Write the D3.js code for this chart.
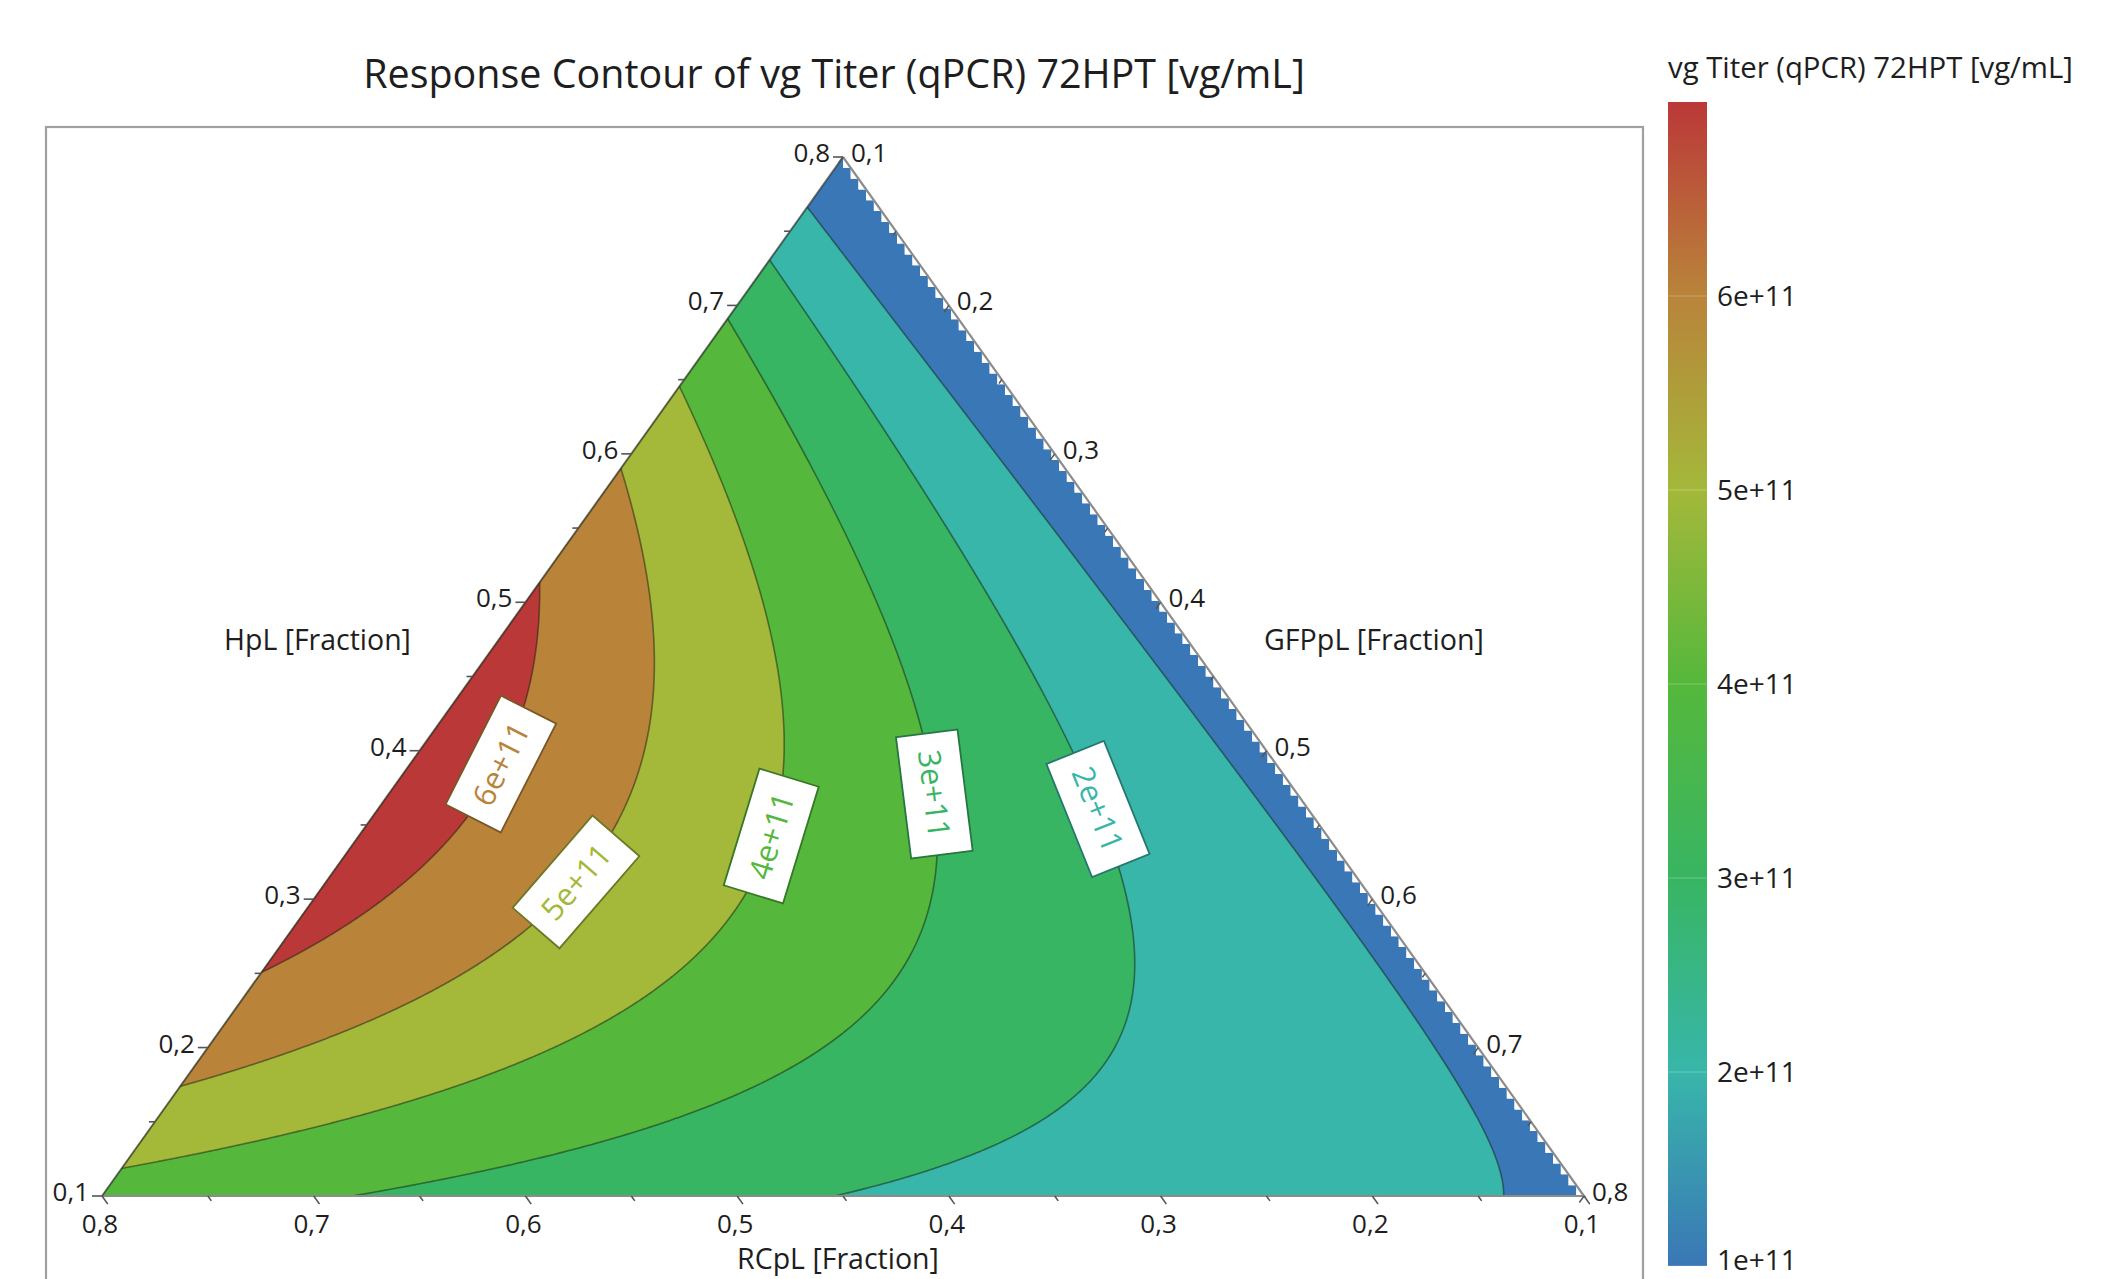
<!DOCTYPE html>
<html><head><meta charset="utf-8">
<script src="https://cdn.jsdelivr.net/npm/d3@7"></script>
<style>
html,body{margin:0;padding:0;background:#fff;}
svg{display:block;}
text{font-family:"Open Sans","Noto Sans",sans-serif;fill:#1e1e1e;}
</style></head><body>
<svg id="chart" width="2127" height="1279"></svg>
<script>
// ---------------- data ----------------
const chartTitle = "Response Contour of vg Titer (qPCR) 72HPT [vg/mL]";
const responseName = "vg Titer (qPCR) 72HPT [vg/mL]";
const componentNames = ["RCpL [Fraction]", "HpL [Fraction]", "GFPpL [Fraction]"];
const componentRange = [0.1, 0.8];
const axisTicks = [0.1, 0.2, 0.3, 0.4, 0.5, 0.6, 0.7, 0.8];
const axisTickLabels = ["0,1", "0,2", "0,3", "0,4", "0,5", "0,6", "0,7", "0,8"];
const axisMinorTicks = [0.15, 0.25, 0.35, 0.45, 0.55, 0.65, 0.75];
// mixture model (Scheffé quadratic in pseudo-components), coefficients
const modelTerms = ["RCpL", "HpL", "GFPpL", "RCpL*HpL", "RCpL*GFPpL", "HpL*GFPpL"];
const modelCoefficients = [3.61e11, -0.04e11, 0.91e11, 18.8e11, -1.10e11, 0.80e11];
const contourLevels = [1e11, 2e11, 3e11, 4e11, 5e11, 6e11];
const colorStopValues = [1e11, 2e11, 3e11, 4e11, 5e11, 6e11, 7e11];
const colorbarTicks = [1e11, 2e11, 3e11, 4e11, 5e11, 6e11];
const colorbarTickLabels = ["1e+11", "2e+11", "3e+11", "4e+11", "5e+11", "6e+11"];
const labelLevels = [6e11, 5e11, 4e11, 3e11, 2e11];
const labelTexts = ["6e+11", "5e+11", "4e+11", "3e+11", "2e+11"];
const labelAnchorRCpL = [0.467, 0.470, 0.364, 0.270, 0.198];
const labelAnchorHpL = [0.393, 0.311, 0.344, 0.371, 0.361];

// ---------------- styles ----------------
const colorStopColors = ["#3a77b6", "#38b6aa", "#38b562", "#55b83c", "#a4b83a", "#b9843a", "#bb3838"];

const svg = d3.select("#chart");
const BL = [102, 1196], TP = [843, 157], BR = [1584, 1196];

// ternary scales
const hpY = d3.scaleLinear().domain(componentRange).range([BL[1], TP[1]]);
const hpX = d3.scaleLinear().domain(componentRange).range([BL[0], TP[0]]);
const gfpDX = d3.scaleLinear().domain(componentRange).range([0, BR[0] - BL[0]]);
const pseudo = d3.scaleLinear().domain(componentRange).range([0, 1]);
const project = (rc, hp, gfp) => [hpX(hp) + gfpDX(gfp), hpY(hp)];
function unproject(px, py) {
  const hp = hpY.invert(py);
  const gfp = gfpDX.invert(px - hpX(hp));
  return [1 - hp - gfp, hp, gfp];
}
function response(rc, hp, gfp) {
  const a = pseudo(rc), b = pseudo(hp), c = pseudo(gfp);
  const t = [a, b, c, a * b, a * c, b * c];
  let s = 0;
  for (let i = 0; i < t.length; i++) s += t[i] * modelCoefficients[i];
  return s;
}
const color = d3.scaleLinear().domain(colorStopValues).range(colorStopColors).interpolate(d3.interpolateRgb);

// ---- frame ----
svg.append("rect").attr("x", 46).attr("y", 127).attr("width", 1597).attr("height", 1200)
  .attr("fill", "none").attr("stroke", "#a0a0a0").attr("stroke-width", 2.2);

// ---- title ----
function fitWidth(sel, w) {
  sel.attr("font-size", 100);
  const l = sel.node().getComputedTextLength();
  sel.attr("font-size", 100 * w / l);
}
fitWidth(svg.append("text").attr("x", 834).attr("y", 88).attr("text-anchor", "middle").attr("fill", "#111").text(chartTitle), 942);

// ---- grid & contours ----
const step = 2, gx0 = 60, gy0 = 130;
const nx = Math.ceil((1630 - gx0) / step) + 1, ny = Math.ceil((1230 - gy0) / step) + 1;
const values = new Float64Array(nx * ny);
for (let j = 0; j < ny; j++) {
  for (let i = 0; i < nx; i++) {
    const c = unproject(gx0 + i * step, gy0 + j * step);
    values[j * nx + i] = response(c[0], c[1], c[2]);
  }
}
const contours = d3.contours().size([nx, ny]).thresholds(contourLevels)(values);
const gridPath = d3.geoPath(d3.geoIdentity().scale(step).translate([gx0 - step / 2, gy0 - step / 2]));

// clip: triangle with stair-stepped right edge (as rendered in the reference)
const rows = 96;
const edgeX = y => TP[0] + (y - TP[1]) / (BR[1] - TP[1]) * (BR[0] - TP[0]);
const stair = [TP, BL];
for (let k = rows; k >= 1; k--) {
  const yb = TP[1] + k * (BR[1] - TP[1]) / rows, yt = TP[1] + (k - 1) * (BR[1] - TP[1]) / rows;
  const x = edgeX(yt);
  stair.push([x, yb], [x, yt]);
}
svg.append("clipPath").attr("id", "tri").append("path").attr("d", "M" + stair.map(p => p.join(",")).join("L") + "Z");

const plot = svg.append("g").attr("clip-path", "url(#tri)");
plot.append("path").attr("d", "M" + stair.map(p => p.join(",")).join("L") + "Z").attr("fill", color(contourLevels[0]));
contours.forEach((c, i) => {
  const upper = colorStopValues[i + 1];
  plot.append("path").attr("d", gridPath(c)).attr("fill", color(upper));
});
contours.forEach(c => {
  plot.append("path").attr("d", gridPath(c)).attr("fill", "none")
    .attr("stroke", "rgba(20,30,20,0.5)").attr("stroke-width", 1.6);
});

// ---- triangle outline ----
svg.append("path").attr("d", `M${TP}L${BR}L${BL}`).attr("fill", "none").attr("stroke", "#8c8c8c").attr("stroke-width", 2.2);
svg.append("path").attr("d", `M${BL}L${TP}`).attr("fill", "none").attr("stroke", "rgba(40,40,30,0.65)").attr("stroke-width", 2);

// ---- ternary axes ----
const ax = svg.append("g").attr("font-size", 26);
const dirBottom = [0.581, 0.814], dirRight = [-0.581, 0.814];
function ticks(vals, len) {
  vals.forEach(v => {
    // left edge: HpL = v, GFPpL = 0.1
    const L = project(1 - v - 0.1, v, 0.1);
    ax.append("line").attr("x1", L[0]).attr("y1", L[1]).attr("x2", L[0] - len).attr("y2", L[1]).attr("stroke", "#555").attr("stroke-width", 1.6);
    // bottom edge: RCpL = v, HpL = 0.1
    const B = project(v, 0.1, 1 - v - 0.1);
    ax.append("line").attr("x1", B[0]).attr("y1", B[1]).attr("x2", B[0] + len * dirBottom[0]).attr("y2", B[1] + len * dirBottom[1]).attr("stroke", "#555").attr("stroke-width", 1.6);
    // right edge: GFPpL = v, RCpL = 0.1
    const R = project(0.1, 1 - v - 0.1, v);
    ax.append("line").attr("x1", R[0]).attr("y1", R[1]).attr("x2", R[0] + len * 0.8 * dirRight[0]).attr("y2", R[1] + len * 0.8 * dirRight[1]).attr("stroke", "#555").attr("stroke-width", 1.5);
  });
}
ticks(axisTicks, 10);
ticks(axisMinorTicks, 6);
axisTicks.forEach((v, i) => {
  const L = project(1 - v - 0.1, v, 0.1);
  ax.append("text").attr("x", L[0] - 13).attr("y", L[1] + 5).attr("text-anchor", "end").text(axisTickLabels[i]);
  const B = project(v, 0.1, 1 - v - 0.1);
  ax.append("text").attr("x", B[0] - 2).attr("y", 1233).attr("text-anchor", "middle").text(axisTickLabels[i]);
  const R = project(0.1, 1 - v - 0.1, v);
  ax.append("text").attr("x", R[0] + 8).attr("y", R[1] + 5).attr("text-anchor", "start").text(axisTickLabels[i]);
});
fitWidth(svg.append("text").attr("x", 224).attr("y", 650).text(componentNames[1]), 187);
fitWidth(svg.append("text").attr("x", 1264).attr("y", 650).text(componentNames[2]), 220);
fitWidth(svg.append("text").attr("x", 838).attr("y", 1269).attr("text-anchor", "middle").text(componentNames[0]), 202);

// ---- contour labels ----
labelLevels.forEach((lev, k) => {
  const ci = contourLevels.indexOf(lev);
  const anchor = project(labelAnchorRCpL[k], labelAnchorHpL[k], 1 - labelAnchorRCpL[k] - labelAnchorHpL[k]);
  let best = null, bd = Infinity;
  contours[ci].coordinates.forEach(poly => poly.forEach(ring => {
    ring.forEach((p, idx) => {
      const px = gx0 + (p[0] - 0.5) * step, py = gy0 + (p[1] - 0.5) * step;
      const d = (px - anchor[0]) ** 2 + (py - anchor[1]) ** 2;
      if (d < bd) { bd = d; best = { ring, idx, px, py }; }
    });
  }));
  const r = best.ring, n = r.length;
  const a = r[(best.idx - 4 + n) % n], b = r[(best.idx + 4) % n];
  let ang = Math.atan2(b[1] - a[1], b[0] - a[0]) * 180 / Math.PI;
  if (ang > 90) ang -= 180;
  if (ang <= -90) ang += 180;
  const g = svg.append("g").attr("transform", `translate(${best.px},${best.py}) rotate(${ang})`);
  g.append("rect").attr("x", -61).attr("y", -31).attr("width", 122).attr("height", 62)
    .attr("fill", "#fff").attr("stroke", d3.color(color(lev)).darker(1.2)).attr("stroke-width", 1.8);
  g.append("text").attr("text-anchor", "middle").attr("dy", "0.36em").attr("font-size", 31)
    .style("fill", color(lev)).text(labelTexts[k]);
});

// ---- colorbar ----
const cb = d3.scaleLinear().domain([colorStopValues[0], colorStopValues[colorStopValues.length - 1]]).range([1266, 102]);
const grad = svg.append("defs").append("linearGradient").attr("id", "cbg").attr("x1", 0).attr("y1", 1).attr("x2", 0).attr("y2", 0);
colorStopValues.forEach((v, i) => grad.append("stop").attr("offset", (v - colorStopValues[0]) / (colorStopValues[colorStopValues.length - 1] - colorStopValues[0])).attr("stop-color", colorStopColors[i]));
svg.append("rect").attr("x", 1668).attr("y", cb(7e11)).attr("width", 39).attr("height", cb(1e11) - cb(7e11)).attr("fill", "url(#cbg)");
colorbarTicks.forEach((v, i) => {
  svg.append("line").attr("x1", 1668).attr("x2", 1707).attr("y1", cb(v)).attr("y2", cb(v)).attr("stroke", "rgba(255,255,255,0.25)").attr("stroke-width", 1);
  svg.append("text").attr("x", 1717).attr("y", Math.min(cb(v) + 10, 1270)).attr("font-size", 28).text(colorbarTickLabels[i]);
});
fitWidth(svg.append("text").attr("x", 1668).attr("y", 78).text(responseName), 405);
</script>
</body></html>
